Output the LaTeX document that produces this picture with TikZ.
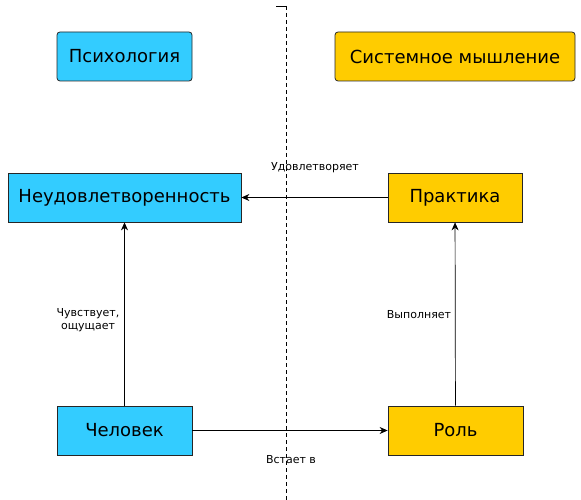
\documentclass[tikz,border=0pt]{standalone}
\usepackage{fontspec}
\setmainfont{DejaVu Sans}
\usetikzlibrary{arrows.meta}
\definecolor{cyanbox}{HTML}{33CCFF}
\definecolor{yellowbox}{HTML}{FFCC00}
\tikzset{
  box/.style={draw=black!85, line width=0.8pt, minimum height=49pt, inner sep=0pt, font=\fontsize{18}{21}\selectfont},
  cbox/.style={box, fill=cyanbox},
  ybox/.style={box, fill=yellowbox},
  rbox/.style={rounded corners=3pt},
  conn/.style={draw=black, line width=0.7pt, -{Stealth[length=8pt,width=7pt]}},
  lbl/.style={font=\fontsize{11}{13.5}\selectfont, align=center, inner sep=0pt},
}
\begin{document}
\begin{tikzpicture}[x=1pt,y=-1pt]
\useasboundingbox (0,0) rectangle (581,500);
% divider
\coordinate (dtl) at (276,6);
\coordinate (dt) at (286,6);
\coordinate (db) at (286,500);
\draw[line width=0.8pt] (dtl) -- (dt);
\draw[line width=0.8pt, dash pattern=on 4pt off 3pt] (dt) -- (db);
% headers
\node[cbox, rbox, minimum width=135pt] (psy) at (124.5,56.5) {Психология};
\node[ybox, rbox, minimum width=240pt] (sys) at (455,56.5) {Системное мышление};
% boxes
\node[cbox, minimum width=233pt] (neud) at (124.5,197.5) {Неудовлетворенность};
\node[ybox, minimum width=134pt] (prak) at (455,197.5) {Практика};
\node[cbox, minimum width=135pt] (chel) at (124.5,430.5) {Человек};
\node[ybox, minimum width=135pt] (rol) at (455.5,430.5) {Роль};
% connectors
\draw[conn] (prak) -- (neud);
\draw[conn] (chel) -- (neud);
\draw[conn] (chel) -- (rol);
\draw[conn] (rol) -- (prak);
% labels
\node[lbl] (l1) at (315,168) {Удовлетворяет};
\node[lbl] (l2) at (88,320) {Чувствует,\\ощущает};
\node[lbl] (l3) at (419,315) {Выполняет};
\node[lbl] (l4) at (291,460) {Встает в};
\end{tikzpicture}
\end{document}
